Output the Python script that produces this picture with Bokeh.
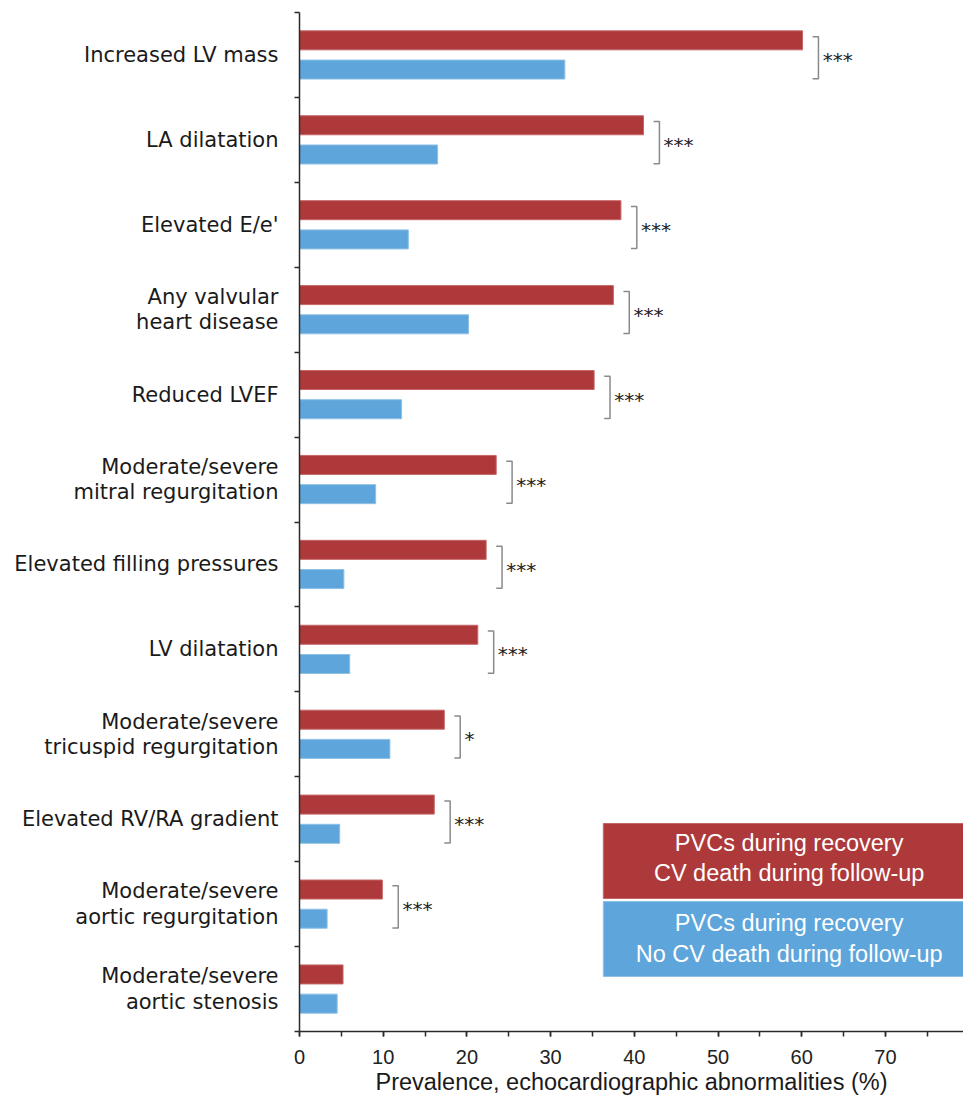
from bokeh.plotting import figure
from bokeh.models import Range1d, FixedTicker, ColumnDataSource
from bokeh.core.properties import value
from bokeh.embed import file_html
from bokeh.resources import INLINE

# ---------------- data ----------------
categories = [
    "Increased LV mass",
    "LA dilatation",
    "Elevated E/e'",
    "Any valvular\nheart disease",
    "Reduced LVEF",
    "Moderate/severe\nmitral regurgitation",
    "Elevated filling pressures",
    "LV dilatation",
    "Moderate/severe\ntricuspid regurgitation",
    "Elevated RV/RA gradient",
    "Moderate/severe\naortic regurgitation",
    "Moderate/severe\naortic stenosis",
]
cv_death = [60.1, 41.1, 38.4, 37.5, 35.2, 23.5, 22.3, 21.3, 17.3, 16.1, 9.9, 5.2]
no_cv_death = [31.7, 16.5, 13.0, 20.2, 12.2, 9.1, 5.3, 6.0, 10.8, 4.8, 3.3, 4.5]
significance = ["***", "***", "***", "***", "***", "***", "***", "***", "*", "***", "***", ""]
x_tick_values = [0, 10, 20, 30, 40, 50, 60, 70]
x_minor_values = [0, 5, 10, 15, 20, 25, 30, 35, 40, 45, 50, 55, 60, 65, 70, 75]
series_names = [
    "PVCs during recovery\nCV death during follow-up",
    "PVCs during recovery\nNo CV death during follow-up",
]
x_title = "Prevalence, echocardiographic abnormalities (%)"

# ---------------- style ----------------
RED = "#AE393B"
RED_EDGE = "#C56667"
BLUE = "#5DA5DA"
BLUE_EDGE = "#8EC1E6"
AXIS = "#2a2a2a"

n = len(categories)
X_MAX = 79.33
centers = [n - i - 0.5 for i in range(n)]

p = figure(width=963, height=1098,
           x_range=Range1d(0, X_MAX), y_range=Range1d(0, n),
           output_backend="svg", toolbar_location=None,
           min_border_left=299, min_border_right=0,
           min_border_top=12, min_border_bottom=67)
p.outline_line_color = None
p.grid.visible = False
p.background_fill_color = "white"
p.border_fill_color = "white"

# bars
BAR_OFF = 0.172
BAR_H = 0.224
red_src = ColumnDataSource(dict(y=[c + BAR_OFF for c in centers], right=cv_death))
blue_src = ColumnDataSource(dict(y=[c - BAR_OFF for c in centers], right=no_cv_death))
p.hbar(y="y", left=0, right="right", height=BAR_H, source=red_src,
       fill_color=RED, line_color=RED_EDGE, line_width=1)
p.hbar(y="y", left=0, right="right", height=BAR_H, source=blue_src,
       fill_color=BLUE, line_color=BLUE_EDGE, line_width=1)

# significance brackets
xs, ys, sx, sy, st = [], [], [], [], []
for c, r, b, s in zip(centers, cv_death, no_cv_death, significance):
    if not s:
        continue
    m = max(r, b)
    xv = m + 1.9
    x0 = xv - 0.7
    top = c + 0.215
    bot = c - 0.28
    xs.append([x0, xv, xv, x0])
    ys.append([top, top, bot, bot])
    sx.append(xv + 0.5)
    sy.append(c - 0.06)
    st.append(s)
p.multi_line(xs=xs, ys=ys, line_color="#8a8a8a", line_width=1.5)
p.text(x=sx, y=sy, text=st, text_font=value("DejaVu Sans"), text_font_size="20px",
       text_color="#222222", text_align="left", text_baseline="middle")

# legend boxes (drawn inside the frame, lower right)
leg_left = 36.3
p.quad(left=[leg_left, leg_left], right=[X_MAX, X_MAX],
       top=[2.449, 1.531], bottom=[1.566, 0.648],
       fill_color=[RED, BLUE], line_color=[RED_EDGE, BLUE_EDGE], line_width=1)
p.text(x=[58.5, 58.5], y=[2.045, 1.099], text=series_names,
       text_font=value("Liberation Sans"), text_font_size="23.5px",
       text_color="white", text_align="center", text_baseline="middle",
       text_line_height=1.18)

# y axis
ya = p.yaxis[0]
ya.ticker = FixedTicker(ticks=centers, minor_ticks=list(range(n + 1)))
ya.major_label_overrides = {c: lab for c, lab in zip(centers, categories)}
ya.major_tick_out = 0
ya.major_tick_in = 0
ya.minor_tick_out = 5
ya.minor_tick_in = 0
ya.minor_tick_line_color = AXIS
ya.minor_tick_line_width = 1.5
ya.axis_line_color = AXIS
ya.axis_line_width = 1.5
ya.major_label_standoff = 16
ya.major_label_text_font = "DejaVu Sans"
ya.major_label_text_font_size = "21px"
ya.major_label_text_color = "#1a1a1a"
ya.major_label_text_line_height = 1.065

# x axis
xa = p.xaxis[0]
xa.ticker = FixedTicker(ticks=x_tick_values, minor_ticks=x_minor_values)
xa.major_tick_out = 5
xa.major_tick_in = 0
xa.minor_tick_out = 5
xa.minor_tick_in = 0
xa.major_tick_line_color = AXIS
xa.minor_tick_line_color = AXIS
xa.major_tick_line_width = 1.5
xa.minor_tick_line_width = 1.5
xa.axis_line_color = AXIS
xa.axis_line_width = 1.5
xa.major_label_standoff = 13
xa.major_label_text_font = "Liberation Sans"
xa.major_label_text_font_size = "20px"
xa.major_label_text_color = "#222222"
xa.axis_label = x_title
xa.axis_label_standoff = 2
xa.axis_label_text_font = "Liberation Sans"
xa.axis_label_text_font_size = "23.5px"
xa.axis_label_text_font_style = "normal"
xa.axis_label_text_color = "#1a1a1a"

open("out.html", "w").write(file_html(p, INLINE))
